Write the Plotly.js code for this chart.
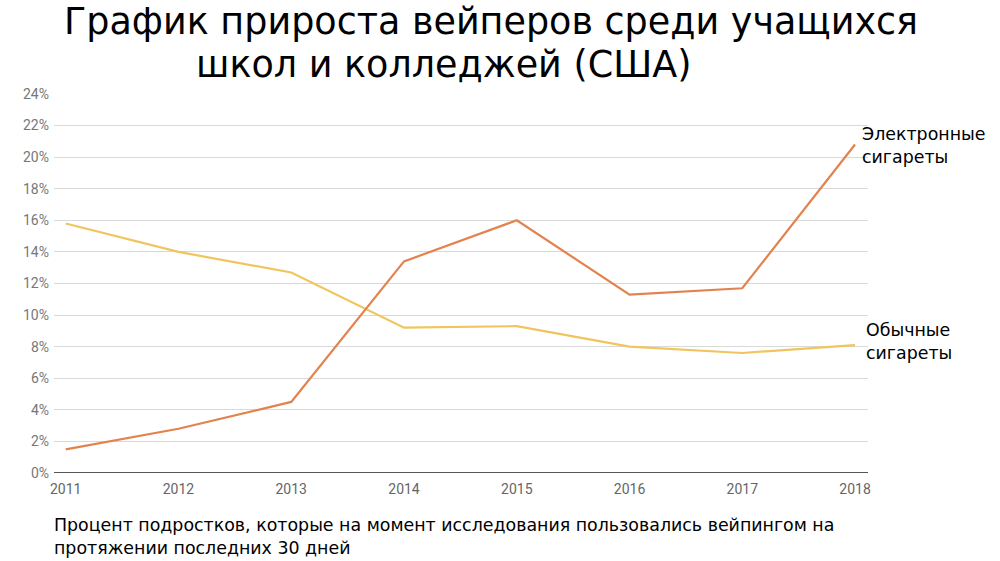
<!DOCTYPE html>
<html>
<head>
<meta charset="utf-8">
<script src="https://cdn.plot.ly/plotly-3.0.1.min.js"></script>
<style>html,body{margin:0;padding:0;background:#fff}#chart{width:1000px;height:561px}</style>
</head>
<body>
<div id="chart"></div>
<script>
const years = [2011, 2012, 2013, 2014, 2015, 2016, 2017, 2018];
const ecig = [1.5, 2.8, 4.5, 13.4, 16.0, 11.3, 11.7, 20.8];
const regular = [15.8, 14.0, 12.7, 9.2, 9.3, 8.0, 7.6, 8.1];
const yTicks = [0, 2, 4, 6, 8, 10, 12, 14, 16, 18, 20, 22, 24];
const yTickLabels = yTicks.map(v => v + '%');
const titleLine1 = 'График прироста вейперов среди учащихся';
const titleLine2 = 'школ и колледжей (США)';
const ecigLabel = 'Электронные<br>сигареты';
const regularLabel = 'Обычные<br>сигареты';
const noteText = 'Процент подростков, которые на момент исследования пользовались вейпингом на<br>протяжении последних 30 дней';

const traces = [
  {x: years, y: regular, type: 'scatter', mode: 'lines', line: {color: '#f1c55d', width: 2.2}, hoverinfo: 'skip'},
  {x: years, y: ecig, type: 'scatter', mode: 'lines', line: {color: '#e2834f', width: 2.2}, hoverinfo: 'skip'}
];

// plot area: left 54, right 868, top 94, bottom 473
const px = x => (x - 54) / 814;
const py = y => (473 - y) / 379;

const layout = {
  width: 1000, height: 561,
  margin: {l: 54, r: 132, t: 94, b: 88},
  paper_bgcolor: '#fff', plot_bgcolor: '#fff',
  showlegend: false,
  xaxis: {
    range: [2010.896, 2018.115],
    tickvals: years, ticktext: years.map(String),
    showgrid: false, zeroline: false, showline: false,
    ticks: '', ticklabelstandoff: 6,
    tickfont: {family: 'Roboto', size: 14, color: '#666'}
  },
  yaxis: {
    range: [0, 24],
    tickvals: yTicks, ticktext: yTickLabels,
    showgrid: true, gridcolor: '#d9d9d9', gridwidth: 1,
    zeroline: false, showline: false, ticks: '', ticklabelstandoff: 4,
    tickfont: {family: 'Roboto', size: 14, color: '#777'}
  },
  shapes: [
    {type: 'line', xref: 'paper', yref: 'y', x0: 0, x1: 1, y0: 0, y1: 0, line: {color: '#555', width: 2}}
  ],
  annotations: [
    {text: titleLine1, xref: 'paper', yref: 'paper', x: px(491), y: py(21), xanchor: 'center', yanchor: 'middle', showarrow: false, font: {family: 'DejaVu Sans', size: 36.5, color: '#000'}},
    {text: titleLine2, xref: 'paper', yref: 'paper', x: px(443.5), y: py(64), xanchor: 'center', yanchor: 'middle', showarrow: false, font: {family: 'DejaVu Sans', size: 36.5, color: '#000'}},
    {text: ecigLabel, xref: 'paper', yref: 'y', x: 1, y: 20.75, xanchor: 'left', yanchor: 'middle', xshift: -8, align: 'left', showarrow: false, font: {family: 'DejaVu Sans', size: 17.4, color: '#000'}},
    {text: regularLabel, xref: 'paper', yref: 'y', x: 1, y: 8.3, xanchor: 'left', yanchor: 'middle', xshift: -4, align: 'left', showarrow: false, font: {family: 'DejaVu Sans', size: 17.4, color: '#000'}},
    {text: noteText, xref: 'paper', yref: 'paper', x: 0, y: -0.105, xanchor: 'left', yanchor: 'top', xshift: -2, align: 'left', showarrow: false, font: {family: 'DejaVu Sans', size: 17.4, color: '#000'}}
  ]
};

Plotly.newPlot('chart', traces, layout, {displayModeBar: false, staticPlot: true});
</script>
</body>
</html>
